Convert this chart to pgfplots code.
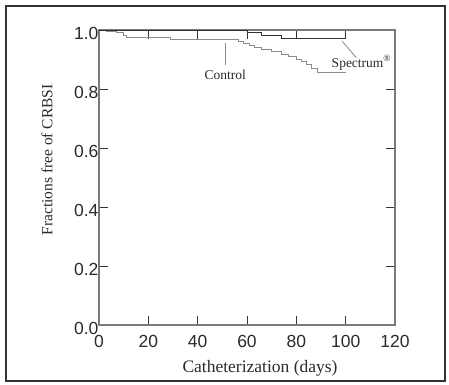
\documentclass[border=0pt]{standalone}
\usepackage{pgfplots}
\pgfplotsset{compat=1.18}
\usepackage{fontspec}
\setmainfont{Liberation Serif}
\newfontfamily\arial{Liberation Sans}
\definecolor{axisgray}{HTML}{7A7A7A}
\definecolor{darkline}{HTML}{333333}
\definecolor{ctrlgray}{HTML}{8C8C8C}
\definecolor{txt}{HTML}{2A2A2A}
\begin{document}
\begin{tikzpicture}
\begin{axis}[
  at={(0,0)}, anchor=south west,
  scale only axis, width=296pt, height=295pt,
  xmin=0, xmax=120, ymin=0, ymax=1,
  xtick={0,20,40,60,80,100,120},
  ytick={0,0.2,0.4,0.6,0.8,1.0},
  tick align=inside, major tick length=9pt,
  axis line style={axisgray, line width=1.3pt},
  every tick/.style={darkline, line width=1pt},
  ticklabel style={font=\arial\fontsize{17.5}{20}\selectfont, text=txt},
  /pgf/number format/assume math mode=true,
  yticklabel style={/pgf/number format/fixed, /pgf/number format/fixed zerofill, /pgf/number format/precision=1, xshift=3pt, yshift=-3pt},
  xticklabel style={yshift=-7pt},
  clip=false,
]
\addplot[const plot, mark=none, ctrlgray, line width=1pt] coordinates {
(0,1.0) (3,0.996) (7.2,0.990) (9.9,0.983) (11.2,0.976) (29,0.967) (56.5,0.960)
(58.5,0.953) (61,0.947) (63,0.940) (66,0.933) (70,0.926) (74,0.918) (77,0.910)
(80,0.900) (82,0.892) (84,0.882) (86,0.870) (88.5,0.857) (100,0.857)
};
\addplot[const plot, mark=none, darkline, line width=1pt] coordinates {
(0,1.0) (60,0.992) (66,0.983) (74,0.972) (100,0.972)
};
\draw[ctrlgray, line width=0.8pt] (axis cs:51.1,0.955) -- (axis cs:51.1,0.881);
\draw[ctrlgray, line width=0.8pt] (axis cs:98.6,0.962) -- (axis cs:104.3,0.906);
\node[txt, font=\fontsize{13.5}{15}\selectfont] at (axis cs:51.2,0.847) {Control};
\node[txt, font=\fontsize{13.5}{15}\selectfont] at (axis cs:106.4,0.889) {Spectrum\textsuperscript{\textregistered}};
\node[txt, font=\fontsize{15.5}{17}\selectfont, rotate=90] at (axis description cs:-0.176,0.56) {Fractions free of CRBSI};
\node[txt, font=\fontsize{17.5}{20}\selectfont] at (axis description cs:0.544,-0.146) {Catheterization (days)};
\end{axis}
\draw[darkline, line width=2pt] (-93pt,-56pt) rectangle (346pt,319pt);
\pgfresetboundingbox
\useasboundingbox (-99pt,-59pt) rectangle (350pt,325pt);
\end{tikzpicture}
\end{document}
